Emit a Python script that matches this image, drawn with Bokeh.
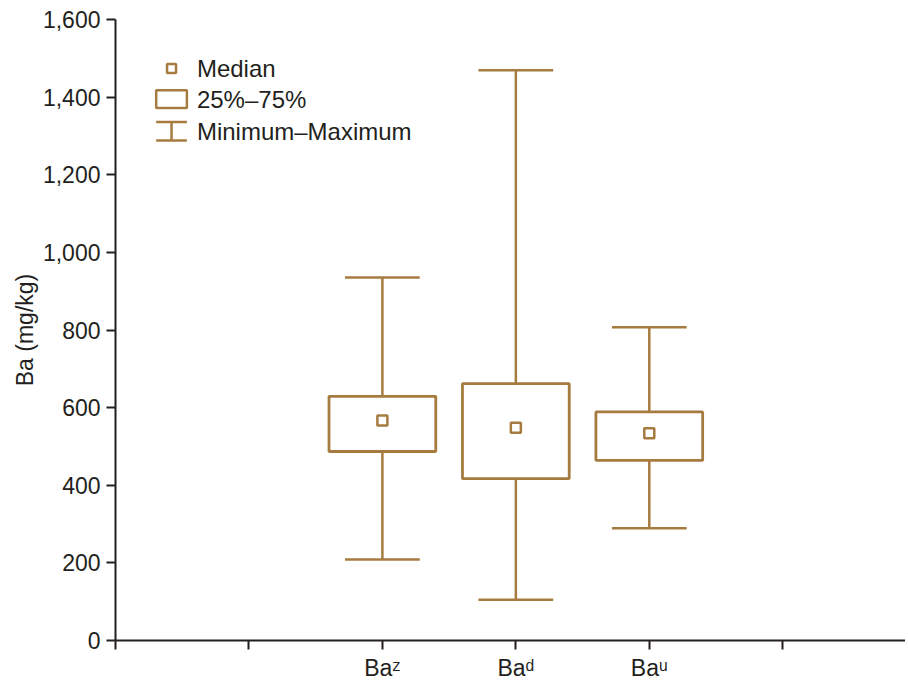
from bokeh.plotting import figure
from bokeh.models import FixedTicker, NumeralTickFormatter, ColumnDataSource, Range1d
from bokeh.core.properties import value
from bokeh.embed import file_html
from bokeh.resources import INLINE

# ---- data ----
categories = ["Baᶻ", "Baᵈ", "Baᵘ"]
minimum = [209, 105, 289]
q1 = [487, 417, 464]
median = [567, 548, 534]
q3 = [629, 662, 589]
maximum = [935, 1469, 807]
y_ticks = [0, 200, 400, 600, 800, 1000, 1200, 1400, 1600]
legend_labels = ["Median", "25%–75%", "Minimum–Maximum"]

GOLD = "#A67B40"
INK = "#231F20"
FONT = "Liberation Sans"

x_pos = [i + 2 for i in range(len(categories))]
box_w = 0.80
cap_w = 0.56

p = figure(frame_width=790, frame_height=621, output_backend="svg", toolbar_location=None,
           x_range=Range1d(0, 5.92), y_range=Range1d(0, 1600),
           min_border_left=115, min_border_top=19, min_border_right=0, min_border_bottom=0)
p.outline_line_color = None
p.xgrid.visible = False
p.ygrid.visible = False
p.background_fill_color = "white"

src = ColumnDataSource(dict(x=x_pos, lo=minimum, q1=q1, med=median, q3=q3, hi=maximum,
                            l=[x - box_w / 2 for x in x_pos], r=[x + box_w / 2 for x in x_pos],
                            cl=[x - cap_w / 2 for x in x_pos], cr=[x + cap_w / 2 for x in x_pos]))

# whiskers
p.segment(x0="x", y0="q3", x1="x", y1="hi", source=src, line_color=GOLD, line_width=2.5)
p.segment(x0="x", y0="q1", x1="x", y1="lo", source=src, line_color=GOLD, line_width=2.5)
p.segment(x0="cl", y0="hi", x1="cr", y1="hi", source=src, line_color=GOLD, line_width=2.5)
p.segment(x0="cl", y0="lo", x1="cr", y1="lo", source=src, line_color=GOLD, line_width=2.5)
# boxes
p.quad(left="l", right="r", bottom="q1", top="q3", source=src, fill_color="white",
       line_color=GOLD, line_width=2.8)
# medians
p.scatter(x="x", y="med", source=src, marker="square", size=10, fill_color="white",
          line_color=GOLD, line_width=2.5)

# ---- legend (drawn manually) ----
lx = 0.42
p.scatter(x=[lx], y=[1474], marker="square", size=9, fill_color="white", line_color=GOLD, line_width=2.5)
p.quad(left=[lx - 0.115], right=[lx + 0.115], bottom=[1372], top=[1418], fill_color="white",
       line_color=GOLD, line_width=2.5)
p.segment(x0=[lx - 0.115, lx - 0.115, lx], y0=[1336, 1288, 1288], x1=[lx + 0.115, lx + 0.115, lx],
          y1=[1336, 1288, 1336], line_color=GOLD, line_width=2.5)
p.text(x=[0.61] * 3, y=[1474, 1395, 1312], text=legend_labels, text_font=value(FONT),
       text_font_size="24px", text_baseline="middle", text_align="left", text_color=INK)

# ---- axes ----
p.yaxis.ticker = FixedTicker(ticks=y_ticks)
p.yaxis.formatter = NumeralTickFormatter(format="0,0")
p.yaxis.axis_label = "Ba (mg/kg)"
p.xaxis.ticker = FixedTicker(ticks=[0, 1, 2, 3, 4, 5])
overrides = {0: "", 1: "", 5: ""}
for xp, c in zip(x_pos, categories):
    overrides[xp] = c
p.xaxis.major_label_overrides = overrides

for ax in (p.xaxis[0], p.yaxis[0]):
    ax.axis_line_color = INK
    ax.axis_line_width = 2
    ax.major_tick_line_color = INK
    ax.major_tick_line_width = 2
    ax.major_tick_out = 9
    ax.major_tick_in = 0
    ax.minor_tick_line_color = None
    ax.major_label_text_font = FONT
    ax.major_label_text_font_size = "23px"
    ax.major_label_text_color = INK
    ax.axis_label_text_font = FONT
    ax.axis_label_text_font_size = "23px"
    ax.axis_label_text_font_style = "normal"
    ax.axis_label_text_color = INK

p.yaxis.major_label_standoff = 6
p.yaxis.axis_label_standoff = 2
p.xaxis.major_label_standoff = 5

open("out.html", "w").write(file_html(p, INLINE))
